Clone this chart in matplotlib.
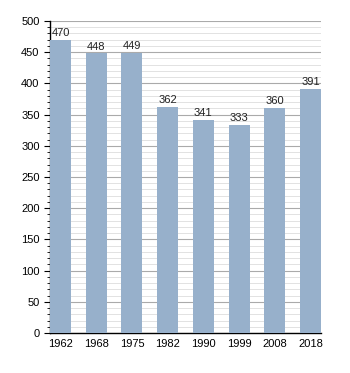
import matplotlib
matplotlib.use("Agg")
import matplotlib.pyplot as plt
from matplotlib.ticker import MultipleLocator

plt.rcParams["font.family"] = ["Liberation Sans", "DejaVu Sans"]

years = ["1962", "1968", "1975", "1982", "1990", "1999", "2008", "2018"]
population = [470, 448, 449, 362, 341, 333, 360, 391]

fig = plt.figure(figsize=(3.5, 3.73), dpi=100)
ax = fig.add_axes([50/350, 40/373, 271/350, 312/373])
x = range(len(years))
w = 0.59
ax.bar(x, population, width=w, color="#97b0cb", zorder=3)
for xi, v in zip(x, population):
    ax.text(xi, v + 3, str(v), ha="center", va="bottom", fontsize=8, color="#222222", zorder=4)

ax.set_xlim(-w/2, len(years) - 1 + w/2)
ax.set_ylim(0, 500)
ax.yaxis.set_major_locator(MultipleLocator(50))
ax.yaxis.set_minor_locator(MultipleLocator(10))
ax.grid(which="major", axis="y", color="#aaaaaa", linewidth=0.8, zorder=0)
ax.grid(which="minor", axis="y", color="#e2e2e2", linewidth=0.7, zorder=0)
ax.set_xticks(list(x))
ax.set_xticklabels(years)
ax.tick_params(axis="x", length=0, labelsize=8, pad=4)
ax.tick_params(axis="y", which="major", length=4, width=0.8, labelsize=8)
ax.tick_params(axis="y", which="minor", length=2, width=0.6)
for s in ["top", "right"]:
    ax.spines[s].set_visible(False)
ax.spines["left"].set_linewidth(1.0)
ax.spines["bottom"].set_linewidth(1.0)
fig.savefig("out.png", dpi=100)
